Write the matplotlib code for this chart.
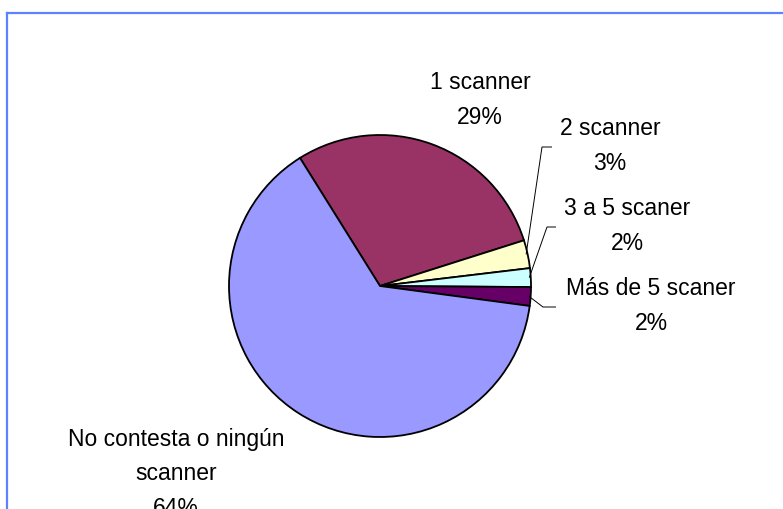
import numpy as np
import matplotlib
matplotlib.use("Agg")
import matplotlib.pyplot as plt
from matplotlib.lines import Line2D

labels = ["1 scanner", "2 scanner", "3 a 5 scaner", "Más de 5 scaner", "No contesta o ningún\nscanner"]
values = [29, 3, 2, 2, 64]
colors = ["#993366", "#FFFFCC", "#CCFFFF", "#660066", "#9999FF"]

W, H = 783, 510
fig = plt.figure(figsize=(W / 100, H / 100), dpi=100)
ax = fig.add_axes([0, 0, 1, 1])

cx, cy, R = 380, H - 287, 151
wedges, _ = ax.pie(values, colors=colors, startangle=122, counterclock=False,
                   center=(cx, cy), radius=R, frame=True,
                   wedgeprops=dict(edgecolor="black", linewidth=1.3))
ax.set_xlim(0, W)
ax.set_ylim(0, H)
ax.set_aspect("equal")
ax.axis("off")

font = dict(family=["Liberation Sans", "DejaVu Sans"], fontsize=16.5, ha="center",
            va="center", linespacing=1.65, color="black")

# label centres (pixel coords, y measured from top)
label_pos = [(480, 100), (610, 146), (627, 226), (651, 306), (176, 474)]
for lab, v, (x, y) in zip(labels, values, label_pos):
    ax.text(x, H - y, f"{lab}\n{v}%", **font)

def edge_point(w, frac=1.0):
    mid = np.deg2rad((w.theta1 + w.theta2) / 2)
    return cx + R * frac * np.cos(mid), cy + R * frac * np.sin(mid)

# leader lines
leaders = {1: [(542, 148), (552, 148)], 2: [(547, 228), (556, 228)], 3: [(543, 308), (556, 308)]}
for i, pts in leaders.items():
    ex, ey = edge_point(wedges[i], 0.99)
    xs = [ex] + [p[0] for p in pts]
    ys = [ey] + [H - p[1] for p in pts]
    ax.plot(xs, ys, color="black", linewidth=0.7, solid_capstyle="butt")

# chart border
bx, by = 7.5 / W, 1 - 13.5 / H
fig.add_artist(Line2D([bx, 1.0], [by, by], transform=fig.transFigure, color="#5C82FF", linewidth=1.6))
fig.add_artist(Line2D([bx, bx], [0, by], transform=fig.transFigure, color="#5C82FF", linewidth=1.6))

fig.savefig("out.png", dpi=100)
